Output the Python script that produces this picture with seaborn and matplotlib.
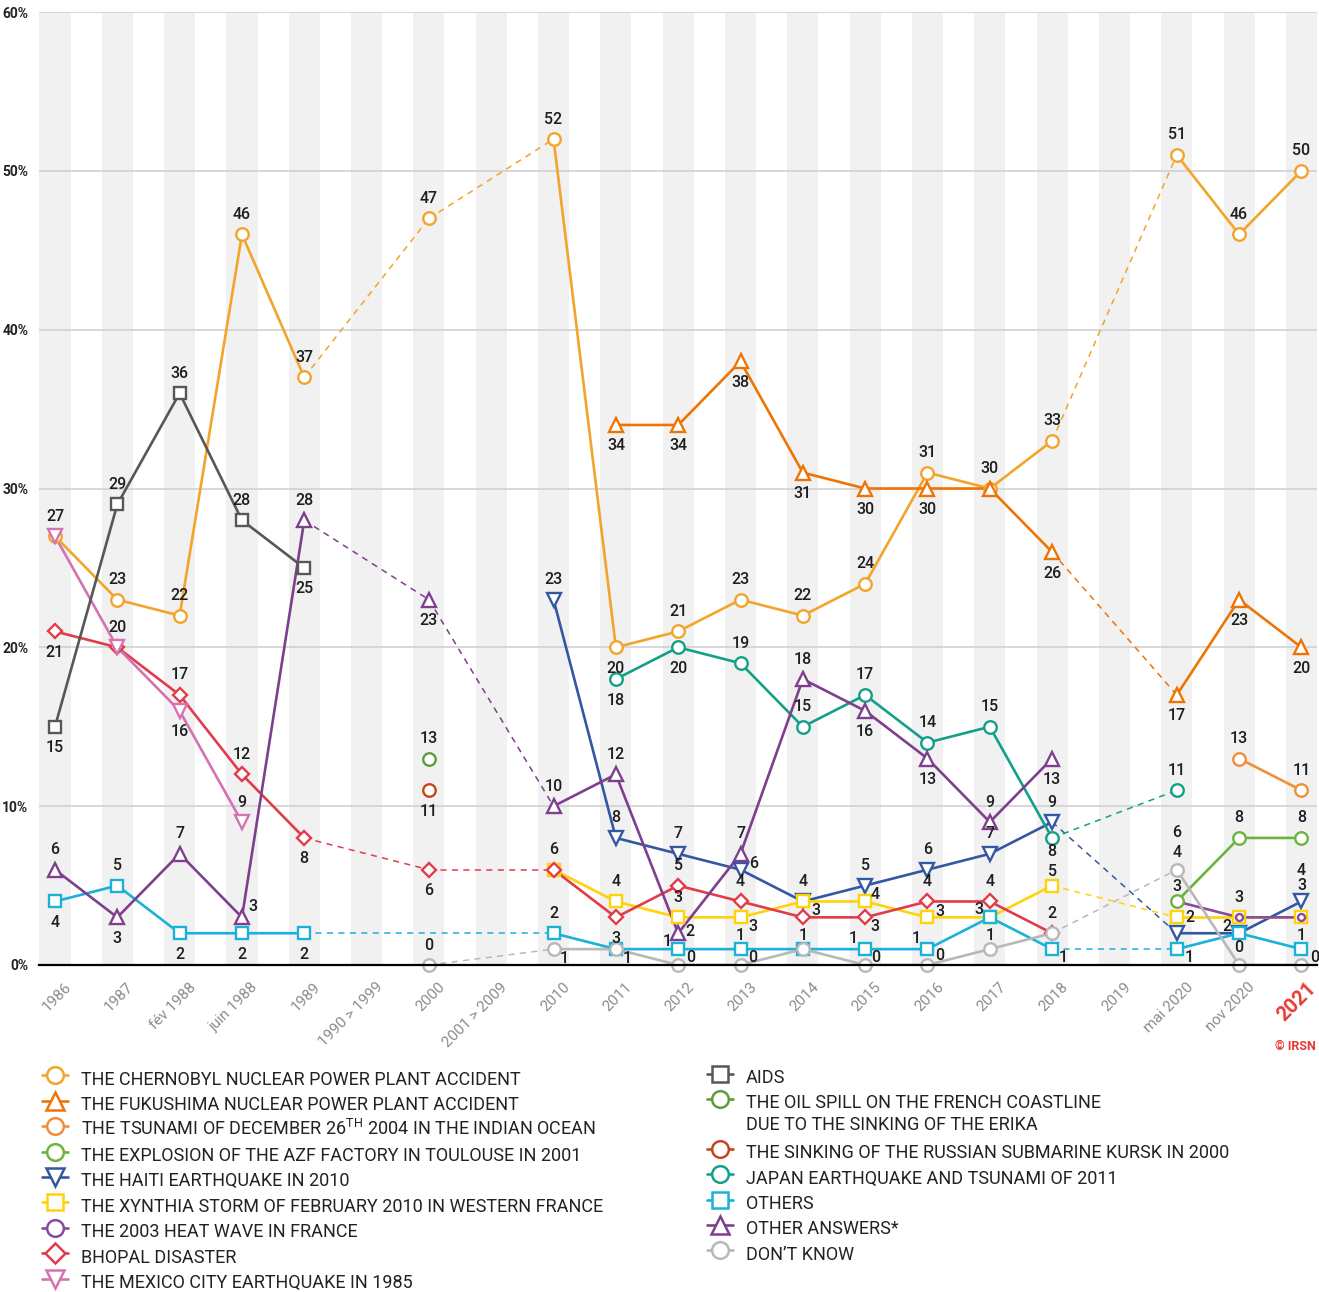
import numpy as np
import pandas as pd
import matplotlib
matplotlib.use("Agg")
import matplotlib.pyplot as plt
import matplotlib.transforms as mtransforms
from matplotlib.lines import Line2D
import seaborn as sns

N = np.nan

# ---------------- data ----------------
categories = ["1986", "1987", "fév 1988", "juin 1988", "1989", "1990 > 1999", "2000",
              "2001 > 2009", "2010", "2011", "2012", "2013", "2014", "2015", "2016",
              "2017", "2018", "2019", "mai 2020", "nov 2020", "2021"]

chernobyl = [27, 23, 22, 46, 37, N, 47, N, 52, 20, 21, 23, 22, 24, 31, 30, 33, N, 51, 46, 50]
fukushima = [N] * 9 + [34, 34, 38, 31, 30, 30, 30, 26, N, 17, 23, 20]
tsunami = [N] * 19 + [13, 11]
azf = [N] * 18 + [4, 8, 8]
haiti = [N] * 8 + [23, 8, 7, 6, 4, 5, 6, 7, 9, N, 2, 2, 4]
xynthia = [N] * 8 + [6, 4, 3, 3, 4, 4, 3, 3, 5, N, 3, 3, 3]
heatwave = [N] * 18 + [4, 3, 3]
bhopal = [21, 20, 17, 12, 8, N, 6, N, 6, 3, 5, 4, 3, 3, 4, 4, 2, N, N, N, N]
mexico = [27, 20, 16, 9] + [N] * 17
aids = [15, 29, 36, 28, 25] + [N] * 16
erika = [N] * 6 + [13] + [N] * 14
kursk = [N] * 6 + [11] + [N] * 14
japan = [N] * 9 + [18, 20, 19, 15, 17, 14, 15, 8, N, 11, N, N]
others = [4, 5, 2, 2, 2, N, N, N, 2, 1, 1, 1, 1, 1, 1, 3, 1, N, 1, 2, 1]
other_answers = [6, 3, 7, 3, 28, N, 23, N, 10, 12, 2, 7, 18, 16, 13, 9, 13, N, N, N, N]
dont_know = [N, N, N, N, N, N, 0, N, 1, 1, 0, 0, 1, 0, 0, 1, 2, N, 6, 0, 0]

series_names = [
    "THE CHERNOBYL NUCLEAR POWER PLANT ACCIDENT",
    "THE FUKUSHIMA NUCLEAR POWER PLANT ACCIDENT",
    "THE TSUNAMI OF DECEMBER 26$^{\\mathrm{TH}}$ 2004 IN THE INDIAN OCEAN",
    "THE EXPLOSION OF THE AZF FACTORY IN TOULOUSE IN 2001",
    "THE HAITI EARTHQUAKE IN 2010",
    "THE XYNTHIA STORM OF FEBRUARY 2010 IN WESTERN FRANCE",
    "THE 2003 HEAT WAVE IN FRANCE",
    "BHOPAL DISASTER",
    "THE MEXICO CITY EARTHQUAKE IN 1985",
    "AIDS",
    "THE OIL SPILL ON THE FRENCH COASTLINE",
    "THE SINKING OF THE RUSSIAN SUBMARINE KURSK IN 2000",
    "JAPAN EARTHQUAKE AND TSUNAMI OF 2011",
    "OTHERS",
    "OTHER ANSWERS*",
    "DON\u2019T KNOW",
]
erika_line2 = "DUE TO THE SINKING OF THE ERIKA"
series_values = [chernobyl, fukushima, tsunami, azf, haiti, xynthia, heatwave, bhopal,
                 mexico, aids, erika, kursk, japan, others, other_answers, dont_know]

# ---------------- styles ----------------
colors = ["#F2A42B", "#EE7405", "#F08F3A", "#6DB33F", "#3457A2", "#FFD30A", "#8A4A9E",
          "#E03C4C", "#D473B0", "#575757", "#5E9B3A", "#C4471C", "#13A089", "#1BB2D8",
          "#7E3F8D", "#B8B8B8"]
markers = ["o", "^", "o", "o", "v", "s", "o", "D", "v", "s", "o", "o", "o", "s", "^", "o"]
msizes = [9, 10, 9, 9, 10, 9, 5, 7.5, 10, 9, 9, 9, 9, 9, 10, 9]
legend_ms = [12, 13.5, 12, 12, 13.5, 12, 12, 10, 13.5, 12, 12, 12, 12, 12, 13.5, 12]
layer = [0, 1, 2, 6.5, 4, 5, 6, 7, 8, 9, 10, 11, 12, 13, 14, 15]

A, B = (0, 20), (0, -21)
label_pos = [
    {i: A for i in range(21)} | {9: B},                                   # chernobyl
    {i: B for i in range(21)} | {15: None},                               # fukushima
    {19: A, 20: A},                                                       # tsunami
    {18: (0, 49), 19: A, 20: A},                                          # azf
    {8: A, 9: A, 10: A, 11: (13, 6), 12: A, 13: A, 14: A, 15: A, 16: A,
     18: (13, 16), 19: (-12, 7), 20: (0, 31)},                            # haiti
    {9: A, 10: A, 11: (12, -9), 13: (10, 7), 14: (12, 6), 16: (0, 14),
     18: (0, 31), 19: A, 20: (0, 32)},                                    # xynthia
    {},                                                                   # heat wave
    {0: B, 1: A, 2: A, 3: A, 4: B, 6: B, 8: A, 9: B, 10: A, 11: A,
     12: (13, 7), 13: (10, -9), 14: A, 15: A, 16: A},                     # bhopal
    {2: B, 3: A},                                                         # mexico
    {0: B, 1: A, 2: A, 3: A, 4: B},                                       # aids
    {6: A},                                                               # erika
    {6: B},                                                               # kursk
    {9: B, 10: B, 11: A, 12: A, 13: A, 14: A, 15: A, 16: (0, -14), 18: A},  # japan
    {0: B, 1: A, 2: B, 3: B, 4: B, 8: A, 9: (11, -9), 10: (-11, 8), 11: (0, 14),
     12: (0, 14), 13: (-12, 11), 14: (-11, 11), 15: (-11, 8), 16: (11, -8),
     18: (12, -8), 20: (0, 14)},                                          # others
    {0: A, 1: B, 2: A, 3: (11, 11), 4: A, 6: B, 8: A, 9: A, 10: (12, 2), 11: A,
     12: A, 13: B, 14: B, 15: A, 16: B},                                  # other answers
    {6: A, 8: (11, -9), 10: (12, 7), 11: (12, 7), 13: (11, 7), 14: (12, 9),
     15: (0, 14), 18: (0, 37), 19: (0, 17), 20: (13, 8)},                 # don't know
]

# ---------------- figure ----------------
sns.set_theme(style="white")
plt.rcParams["font.family"] = ["Roboto", "DejaVu Sans"]
plt.rcParams["mathtext.fontset"] = "custom"
plt.rcParams["mathtext.rm"] = "Roboto"
plt.rcParams["mathtext.bf"] = "Roboto:bold"
plt.rcParams["mathtext.it"] = "Roboto:italic"

W, H = 1319, 1292
fig = plt.figure(figsize=(W / 100, H / 100), dpi=100)
fig.patch.set_facecolor("white")
x0, x1, ytop, ybot = 39.4, 1317.0, 12.0, 965.0
ax = fig.add_axes([x0 / W, 1 - ybot / H, (x1 - x0) / W, (ybot - ytop) / H])
ax.set_facecolor("white")

n = len(categories)
for i in range(n):
    ax.axvspan(i - 0.25, i + 0.25, color="#F1F1F1", lw=0, zorder=0)

ax.set_xlim(-0.25, n - 0.75)
ax.set_ylim(0, 60)
ax.set_yticks(range(0, 61, 10))
ax.set_yticklabels([f"{v}%" for v in range(0, 61, 10)], fontsize=10,
                   fontweight="semibold", color="#222222")
ax.yaxis.grid(True, color="#D4D4D4", lw=1.3, zorder=0.5)
ax.xaxis.grid(False)
ax.set_axisbelow(True)
ax.tick_params(axis="y", length=0, pad=8)
for s in ["top", "right", "left"]:
    ax.spines[s].set_visible(False)
ax.spines["bottom"].set_color("black")
ax.spines["bottom"].set_linewidth(1.6)
ax.spines["bottom"].set_zorder(5)

ax.set_xticks(range(n))
ax.set_xticklabels(categories, rotation=45, ha="right", va="center",
                   rotation_mode="anchor", fontsize=11, color="#8C8C8C")
ax.tick_params(axis="x", length=0, pad=0)
offset = mtransforms.ScaledTranslation(14 / 100, -20 / 100, fig.dpi_scale_trans)
for lab in ax.get_xticklabels():
    lab.set_transform(lab.get_transform() + offset)
last = ax.get_xticklabels()[-1]
last.set_color("#E53935")
last.set_fontweight("bold")
last.set_fontsize(14.5)
last.set_transform(last.get_transform() +
                   mtransforms.ScaledTranslation(-2 / 100, 0, fig.dpi_scale_trans))

for k, (vals, c, m, ms) in enumerate(zip(series_values, colors, markers, msizes)):
    v = np.array(vals, dtype=float)
    idx = [i for i in range(n) if not np.isnan(v[i])]
    runs, run_id = [], 0
    for j, i in enumerate(idx):
        if j > 0 and i - idx[j - 1] > 1:
            run_id += 1
            ax.plot([idx[j - 1], i], [v[idx[j - 1]], v[i]], color=c, lw=1.1,
                    ls=(0, (4, 3.5)), zorder=1 + k * 0.01)
        runs.append((i, v[i], run_id))
    df = pd.DataFrame(runs, columns=["pos", "val", "run"])
    counts = df["run"].value_counts()
    df_solid = df[df["run"].map(counts) > 1]
    if len(df_solid):
        sns.lineplot(data=df_solid, x="pos", y="val", units="run", estimator=None,
                     sort=False, color=c, lw=1.9, ax=ax, legend=False,
                     zorder=2 + k * 0.01)
    ax.plot(df["pos"], df["val"], ls="none", marker=m, ms=ms, mfc="white", mec=c,
            mew=1.7, clip_on=False, zorder=3 + layer[k] * 0.01)
    for i, off in label_pos[k].items():
        if off is None or i >= n or np.isnan(v[i]):
            continue
        ax.annotate(f"{int(v[i])}", (i, v[i]), xytext=off, textcoords="offset pixels",
                    ha="center", va="center", fontsize=11.5, fontweight="medium",
                    color="#1E1E1E", zorder=10, annotation_clip=False)

ax.set_xlabel("")
ax.set_ylabel("")

# ---------------- legends ----------------
def handle(k):
    return Line2D([0], [0], color=colors[k], lw=1.9, marker=markers[k],
                  ms=legend_ms[k], mfc="white", mec=colors[k], mew=1.8)

leg_fs = 13
common = dict(loc="upper left", frameon=False, fontsize=leg_fs, handlelength=1.45,
              handletextpad=0.72, handleheight=1.79, labelspacing=0.0, borderpad=0,
              borderaxespad=0, labelcolor="#222222")
groups = [(list(range(9)), 42, 1066), ([9, 10], 707, 1064.5),
          (list(range(11, 16)), 707, 1139.5)]
for idxs, lx, ly in groups:
    fig.legend([handle(k) for k in idxs], [series_names[k] for k in idxs],
               bbox_to_anchor=(lx / W, 1 - ly / H), **common)

fig.text(746 / W, 1 - 1125 / H, erika_line2, ha="left", va="center",
         fontsize=leg_fs, color="#222222")

fig.text(1316 / W, 1 - 1046 / H, "\u00a9 IRSN", ha="right", va="center",
         color="#E53935", fontsize=9, fontweight="bold")

fig.savefig("out.png", dpi=100, facecolor="white")
